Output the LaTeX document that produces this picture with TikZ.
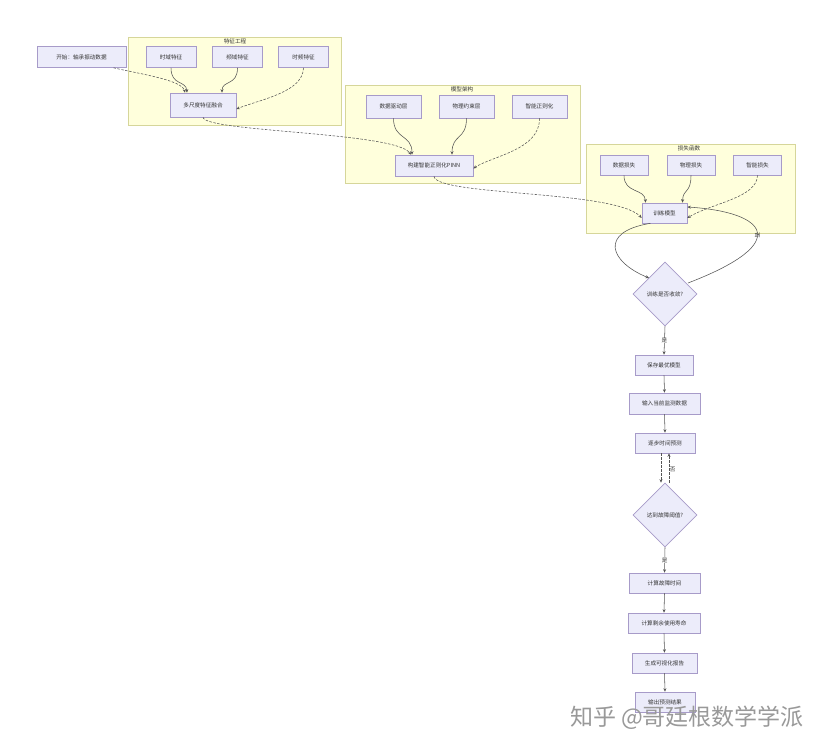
\documentclass[tikz,border=0pt]{standalone}
\usepackage{fontspec}
\setmainfont{Noto Sans CJK SC}
\usetikzlibrary{shapes.geometric,arrows.meta}

\definecolor{boxfill}{HTML}{ECECFA}
\definecolor{boxline}{HTML}{A79BC9}
\definecolor{grpfill}{HTML}{FFFFDC}
\definecolor{grpline}{HTML}{D6D69A}
\definecolor{linec}{HTML}{555555}

\begin{document}
\begin{tikzpicture}[x=1pt,y=-1pt,
  box/.style={draw=boxline, fill=boxfill, line width=0.6pt, inner sep=1pt,
    minimum height=21pt, font=\fontsize{5.6}{6.5}\selectfont, text=black!80},
  dec/.style={draw=boxline, fill=boxfill, line width=0.6pt, diamond, aspect=1,
    inner sep=0pt, minimum width=64pt, minimum height=64pt,
    font=\fontsize{5.6}{6.5}\selectfont, text=black!80},
  group/.style={draw=grpline, fill=grpfill, line width=0.5pt, inner sep=0pt},
  glabel/.style={font=\fontsize{5.6}{6.5}\selectfont, text=black!80, inner sep=0pt},
  elabel/.style={font=\fontsize{5.6}{6.5}\selectfont, text=black!80, inner sep=0.5pt},
  arr/.style={draw=linec, line width=0.55pt, -{Stealth[length=3.5pt,width=3pt]}},
  darr/.style={arr, dashed, dash pattern=on 2.5pt off 1.5pt}]

\useasboundingbox[fill=white] (0,0) rectangle (831,751);

% ---- subgraph backgrounds ----
\node[group, minimum width=213pt, minimum height=88pt] (fe) at (234.5,81) {};
\node[glabel] (felab) at (235,41.5) {特征工程};
\node[group, minimum width=235pt, minimum height=98pt] (ma) at (462.5,134) {};
\node[glabel] (malab) at (462,89.5) {模型架构};
\node[group, minimum width=209pt, minimum height=89pt] (lf) at (690.5,188.5) {};
\node[glabel] (lflab) at (689,148.5) {损失函数};

% ---- feature engineering ----
\node[box, minimum width=89pt] (start) at (81.5,57) {开始：轴承振动数据};
\node[box, minimum width=50pt] (tf) at (171,57) {时域特征};
\node[box, minimum width=50pt] (ff) at (237.5,57) {频域特征};
\node[box, minimum width=50pt] (tff) at (303.5,57) {时频特征};
\node[box, minimum width=66pt, minimum height=24pt] (fuse) at (203,105) {多尺度特征融合};

% ---- model architecture ----
\node[box, minimum width=55pt, minimum height=23pt] (dl) at (393.5,106.5) {数据驱动层};
\node[box, minimum width=55pt, minimum height=23pt] (pl) at (466.5,106.5) {物理约束层};
\node[box, minimum width=55pt, minimum height=23pt] (rl) at (539.5,106.5) {智能正则化};
\node[box, minimum width=78pt] (pinn) at (434,165.5) {构建智能正则化PINN};

% ---- loss function ----
\node[box, minimum width=48pt, minimum height=20pt] (dloss) at (624,165) {数据损失};
\node[box, minimum width=48pt, minimum height=20pt] (ploss) at (691,165) {物理损失};
\node[box, minimum width=48pt, minimum height=20pt] (rloss) at (757.5,165) {智能损失};
\node[box, minimum width=45pt, minimum height=20pt] (train) at (664.5,213) {训练模型};

% ---- main flow ----
\node[dec] (conv) at (665,294) {训练是否收敛?};
\node[box, minimum width=58pt, minimum height=20pt] (save) at (664,365) {保存最优模型};
\node[box, minimum width=71pt, minimum height=21pt] (input) at (664.5,403.5) {输入当前监测数据};
\node[box, minimum width=60pt, minimum height=20pt] (step) at (665,443) {逐步时间预测};
\node[dec] (thr) at (665,515) {达到故障阈值?};
\node[box, minimum width=71pt, minimum height=20pt] (ftime) at (664.5,583) {计算故障时间};
\node[box, minimum width=72pt, minimum height=20pt] (rul) at (664,623) {计算剩余使用寿命};
\node[box, minimum width=65pt, minimum height=20pt] (rep) at (664.5,663) {生成可视化报告};
\node[box, minimum width=60pt, minimum height=20pt] (out) at (665,702) {输出预测结果};

% ---- connectors: feature engineering ----
\draw[darr] ([xshift=32pt]start.south) .. controls (140,74) and (182,80) .. ([xshift=-18pt]fuse.north);
\draw[arr] (tf.south) .. controls (171,86) and (186,80) .. ([xshift=-16pt]fuse.north);
\draw[arr] (ff.south) .. controls (237.5,86) and (222,80) .. ([xshift=19pt]fuse.north);
\draw[darr] (tff.south) .. controls (303,92) and (262,99) .. ([yshift=-4pt]fuse.east);
\draw[darr] (fuse.south) .. controls (205,132) and (395,132) .. ([xshift=-23pt]pinn.north);

% ---- connectors: model architecture ----
\draw[arr] (dl.south) .. controls (393.5,140) and (412,134) .. ([xshift=-22pt]pinn.north);
\draw[arr] (pl.south) .. controls (466.5,140) and (452,134) .. ([xshift=18pt]pinn.north);
\draw[darr] (rl.south) .. controls (540,150) and (492,156) .. ([yshift=-3pt]pinn.east);
\draw[darr] (pinn.south) .. controls (436,196) and (615,190) .. ([yshift=-5pt]train.west);

% ---- connectors: loss function ----
\draw[arr] (dloss.south) .. controls (624,194) and (645,188) .. ([xshift=-19pt]train.north);
\draw[arr] (ploss.south) .. controls (691,194) and (683,188) .. ([xshift=18pt]train.north);
\draw[darr] (rloss.south) .. controls (757,198) and (712,203) .. ([yshift=-5pt]train.east);

% ---- training loop ----
\draw[arr] ([xshift=-14pt]train.south) .. controls (598,232) and (610,262) .. (649,278);
\draw[arr] (688,283) .. controls (795,242) and (765,212) .. ([yshift=6pt]train.east)
  node[elabel, pos=0.45, rotate=-90] (nolab1) {否};
\draw[arr] (conv.south) -- node[elabel, fill=white] (yes1) {是} (save.north);
\draw[arr] (save.south) -- (input.north);
\draw[arr] (input.south) -- (step.north);

% ---- prediction loop ----
\draw[darr] ([xshift=-4pt]step.south) -- ([xshift=-4pt]thr.north);
\draw[darr] ([xshift=4pt]thr.north) -- node[elabel, right, pos=0.45] (nolab2) {否} ([xshift=4pt]step.south);
\draw[arr] (thr.south) -- node[elabel, fill=white] (yes2) {是} (ftime.north);
\draw[arr] (ftime.south) -- (rul.north);
\draw[arr] (rul.south) -- (rep.north);
\draw[arr] (rep.south) -- (out.north);

% ---- watermark ----
\node[font=\fontsize{23}{23}\selectfont, text=gray!80, inner sep=0pt] (wm) at (687,718) {知乎 @哥廷根数学学派};
\end{tikzpicture}
\end{document}
